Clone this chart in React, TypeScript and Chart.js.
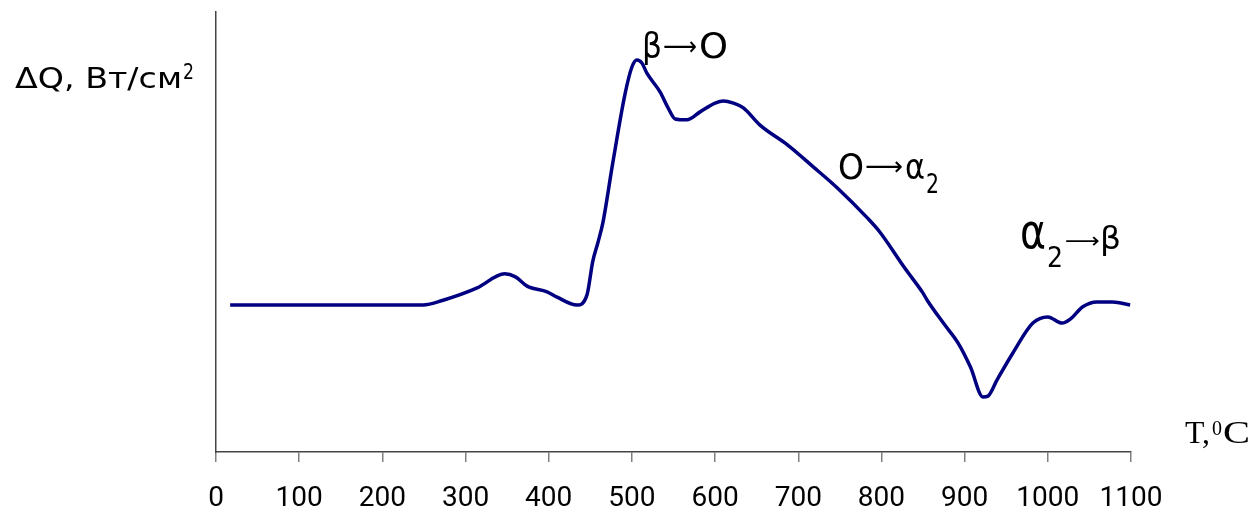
import { useEffect, useRef } from "react";
import { Chart, registerables } from "chart.js";

Chart.register(...registerables);

// Temperature, °C
const temperatures = [
  17, 249, 273, 314, 347, 360, 374, 398, 410, 434, 446, 453, 459, 465, 477,
  492, 500, 506, 512, 518, 534, 543, 552, 566, 582, 600, 610, 622, 634, 654, 687,
  718, 747, 783, 798, 828, 850, 855, 876, 892, 907, 922, 928, 939, 958, 982, 1000,
  1017, 1027, 1042, 1059, 1078, 1099,
];
// ΔQ, arbitrary units (axis has no value ticks)
const deltaQ = [
  33.4, 33.4, 34.5, 37.3, 40.5, 39.8, 37.7, 36.4, 35.2, 33.4, 35.7, 43.4, 47.5, 52.0, 65.7,
  81.6, 87.5, 89.1, 88.4, 86.1, 81.8, 78.4, 75.7, 75.5, 77.3, 79.3, 79.8, 79.3, 78.2, 74.3, 69.8,
  64.8, 60.0, 53.2, 50.0, 41.8, 36.1, 34.5, 28.9, 24.8, 19.3, 12.5, 12.7, 16.4, 22.5, 29.3, 30.7,
  29.3, 30.2, 33.0, 34.1, 34.1, 33.4,
];
const xTickValues = [0, 100, 200, 300, 400, 500, 600, 700, 800, 900, 1000, 1100];

const SANS = '"DejaVu Sans"';
const SERIF = '"Liberation Serif"';

function drawStretched(
  ctx: CanvasRenderingContext2D,
  text: string,
  x: number,
  baseline: number,
  size: number,
  family: string,
  targetWidth: number
) {
  ctx.save();
  ctx.font = `${size}px ${family}`;
  ctx.textAlign = "left";
  ctx.textBaseline = "alphabetic";
  ctx.fillStyle = "#000";
  const w = ctx.measureText(text).width || 1;
  ctx.translate(x, baseline);
  ctx.scale(targetWidth / w, 1);
  ctx.fillText(text, 0, 0);
  ctx.restore();
}

export default function App() {
  const ref = useRef<HTMLCanvasElement>(null);

  useEffect(() => {
    if (!ref.current) return;
    const labelsPlugin = {
      id: "textLabels",
      afterDraw(chart: any) {
        const ctx: CanvasRenderingContext2D = chart.ctx;
        // Y axis title
        drawStretched(ctx, "ΔQ, Вт/см", 15, 88, 29, SANS, 167);
        drawStretched(ctx, "2", 183, 79, 21, SANS, 11);
        // Phase transition annotations
        drawStretched(ctx, "β", 642, 58, 35, SANS, 20);
        drawStretched(ctx, "⟶", 663, 55, 26, SANS, 34);
        drawStretched(ctx, "O", 699, 58, 35, SANS, 29);
        drawStretched(ctx, "O", 838, 179, 35, SANS, 26);
        drawStretched(ctx, "⟶", 865, 175, 26, SANS, 38);
        drawStretched(ctx, "α", 905, 179, 35, SANS, 20);
        drawStretched(ctx, "2", 926, 193, 26, SANS, 13);
        drawStretched(ctx, "α", 1020, 248, 48, SANS, 26);
        drawStretched(ctx, "2", 1047, 267, 28, SANS, 16);
        drawStretched(ctx, "⟶", 1065, 248, 22, SANS, 35);
        drawStretched(ctx, "β", 1100, 249, 32, SANS, 21);
        // X axis title
        drawStretched(ctx, "T,", 1185, 443, 31, SERIF, 25);
        drawStretched(ctx, "0", 1212, 435, 20, SERIF, 10);
        drawStretched(ctx, "C", 1223, 443, 31, SERIF, 27);
      },
    };

    const chart = new Chart(ref.current, {
      type: "line",
      data: {
        datasets: [
          {
            data: temperatures.map((t, i) => ({ x: t, y: deltaQ[i] })),
            borderColor: "#000080",
            borderWidth: 3.5,
            pointRadius: 0,
            cubicInterpolationMode: "monotone",
            fill: false,
          },
        ],
      },
      options: {
        responsive: false,
        animation: false,
        layout: { padding: { left: 216, right: 123, top: 12, bottom: 0 } },
        plugins: { legend: { display: false }, tooltip: { enabled: false } },
        scales: {
          x: {
            type: "linear",
            min: 0,
            max: 1100,
            afterFit: (scale: any) => {
              scale.height = 60;
            },
            afterBuildTicks: (scale: any) => {
              scale.ticks = xTickValues.map((v) => ({ value: v }));
            },
            ticks: {
              color: "#000",
              font: { family: "Roboto", size: 28 },
              padding: 20,
              maxRotation: 0,
              autoSkip: false,
              callback: (v: any) => String(v),
            },
            grid: {
              display: true,
              drawOnChartArea: false,
              drawTicks: true,
              tickLength: 10,
              color: "#808080",
              lineWidth: 1.5,
            },
            border: { display: true, color: "#444", width: 1.5 },
          },
          y: {
            min: 0,
            max: 100,
            afterFit: (scale: any) => {
              scale.width = 0;
            },
            ticks: { display: false },
            grid: { display: false },
            border: { display: true, color: "#444", width: 1.5 },
          },
        },
      },
      plugins: [labelsPlugin],
    });
    return () => chart.destroy();
  }, []);

  return (
    <div style={{ position: "fixed", left: 0, top: 0, width: 1254, height: 512, background: "#fff" }}>
      <canvas ref={ref} width={1254} height={512} style={{ width: 1254, height: 512, display: "block" }} />
    </div>
  );
}
